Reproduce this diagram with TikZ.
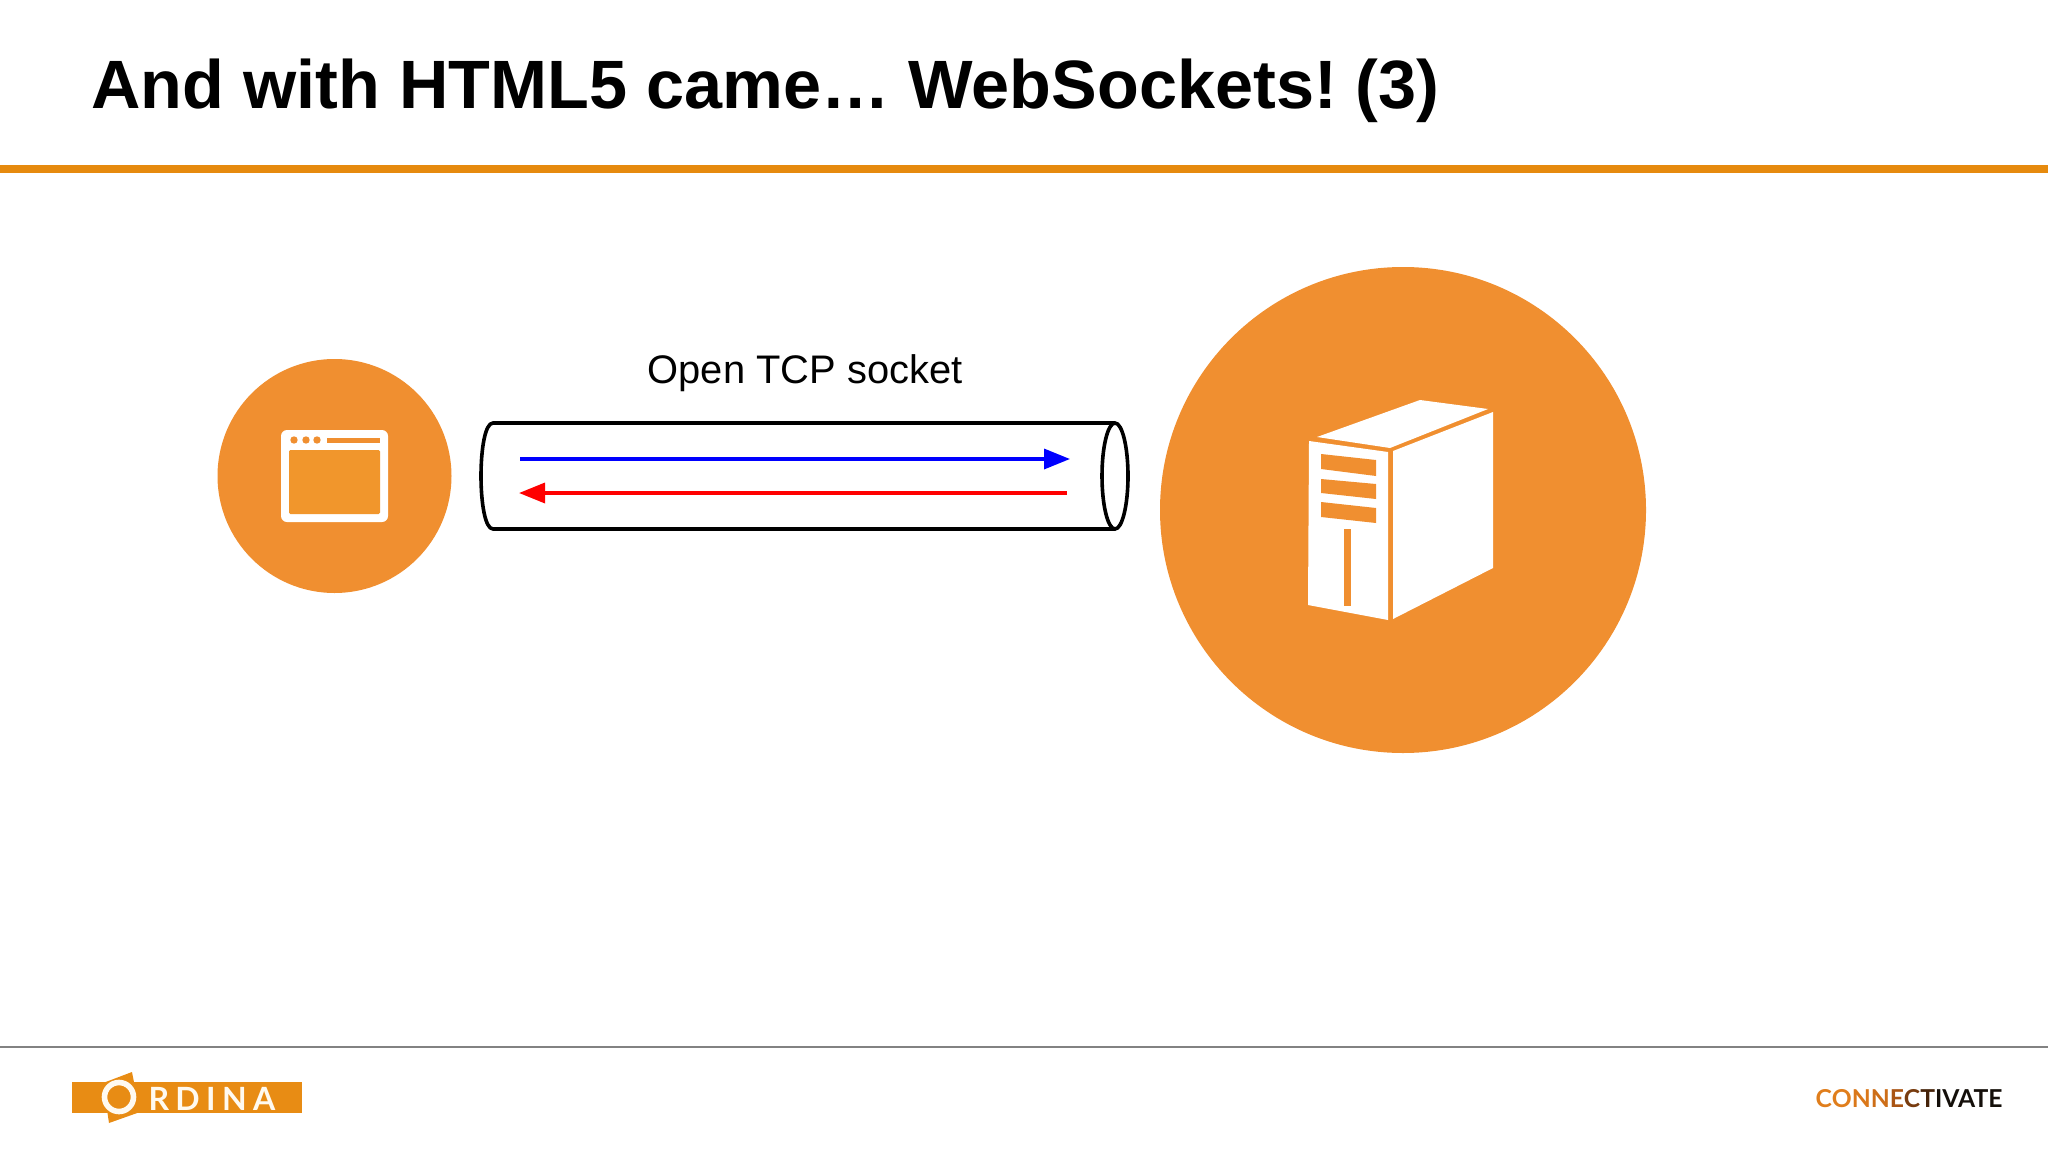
\documentclass[tikz,border=0pt]{standalone}
\usepackage{fontspec}
\setmainfont{Liberation Sans}
\newfontfamily\logofont{Lato}
\usetikzlibrary{arrows.meta}

\definecolor{ruleorange}{RGB}{230,138,14}
\definecolor{discorange}{RGB}{240,143,48}
\definecolor{paneorange}{RGB}{241,150,44}
\definecolor{logoorange}{RGB}{232,140,20}
\definecolor{logowhite}{RGB}{255,250,240}

\tikzset{every picture/.style={line width=0.75pt}}
\tikzset{disc/.style={fill=discorange,draw=none}}
\tikzset{icon/.style={fill=white,draw=none}}
\tikzset{hole/.style={fill=discorange,draw=none}}
\tikzset{pipe/.style={draw=black,line width=2.7pt}}
\tikzset{flow/.style={line width=2.6pt,-{Triangle[length=19.5pt,width=15pt]}}}

\begin{document}
\frenchspacing
\begin{tikzpicture}[x=0.75pt,y=0.75pt,yscale=-1,xscale=1]
\useasboundingbox (0,0) rectangle (2048,1152);

%Straight Lines: title rule
\fill [ruleorange] (0,165) rectangle (2048,173);
%Straight Lines: footer rule
\draw [color={rgb, 255:red, 130; green, 130; blue, 130 },line width=1pt] (0,1047) -- (2048,1047);

% Text Node
\node (titletxt) [anchor=base west,inner sep=0pt,font=\fontsize{51.3pt}{60pt}\bfseries] at (91,108.5) {And with HTML5 came… WebSockets! (3)};

%Shape: Circle
\draw [disc] (334.5,476) circle (117);
%Shape: Circle
\draw [disc] (1403,510) circle (243);

%Shape: Rectangle browser window
\draw [icon] (281,430) [rounded corners=4.5pt] rectangle (388,522);
\fill [rounded corners=1pt,fill=paneorange] (289,450) rectangle (380,514);
\foreach \dotx in {294,306,317}
  \fill [discorange] (\dotx,440) circle (3.7);
\fill [discorange] (327,438) rectangle (380,442.5);

%Shape: Polygon server top
\draw [icon] (1317,437) -- (1420,400) -- (1488,409) -- (1390,448) -- cycle;
%Shape: Polygon server front
\draw [icon] (1309,441) -- (1388,452) -- (1388,620) -- (1308,605) -- cycle;
%Shape: Polygon server side
\draw [icon] (1393,451) -- (1493,412) -- (1493,568) -- (1393,619) -- cycle;
%Shape: Polygon server slots
\draw [hole] (1321,454) -- (1376,460) -- (1376,476) -- (1321,469) -- cycle;
\draw [hole] (1321,479) -- (1376,484) -- (1376,499) -- (1321,493) -- cycle;
\draw [hole] (1321,502) -- (1376,508) -- (1376,523) -- (1321,517) -- cycle;
\draw [hole] (1344,529) rectangle (1351,606);

%Shape: Can pipe body
\draw [pipe] (1115,423) -- (493,423) .. controls (477,423) and (477,529) .. (493,529) -- (1115,529);
%Shape: Ellipse pipe mouth
\draw [pipe] (1115,476) ellipse (13 and 53);

% Text Node
\node (sockettxt) [anchor=base,inner sep=0pt,font=\fontsize{29.9pt}{35pt}\selectfont] at (805,383) {Open TCP socket};

\coordinate (upleft) at (520,459);
\coordinate (upright) at (1070,459);
\coordinate (downright) at (1067,493);
\coordinate (downleft) at (519,493);
%Straight Lines with arrows
\draw [flow,blue] (upleft) -- (upright);
\draw [flow,red] (downright) -- (downleft);

%Shape: logo band
\fill [logoorange] (72,1082) rectangle (302,1113);
\fill [logoorange] (103,1083) -- (132,1072) -- (140,1112) -- (109,1123) -- cycle;
\draw [draw=logowhite,line width=4.2pt] (119,1097) circle (14.5);
% Text Node
\node (ordinatxt) [anchor=base west,inner sep=0pt,text=logowhite,font=\fontsize{24pt}{28pt}\logofont\bfseries] at (148,1110) {R\hspace{4.8pt}D\hspace{4.8pt}I\hspace{4.8pt}N\hspace{4.8pt}A};

% Text Node
\node (connectivatetxt) [anchor=base west,inner sep=0pt,font=\fontsize{18.5pt}{24pt}\logofont\bfseries] at (1815,1107) {\textcolor[RGB]{224,126,28}{C}\textcolor[RGB]{224,126,28}{O}\textcolor[RGB]{218,120,26}{N}\textcolor[RGB]{205,110,24}{N}\textcolor[RGB]{170,85,20}{E}\textcolor[RGB]{120,60,15}{C}\textcolor[RGB]{70,35,10}{T}\textcolor[RGB]{20,15,10}{IVATE}};

\end{tikzpicture}
\end{document}
